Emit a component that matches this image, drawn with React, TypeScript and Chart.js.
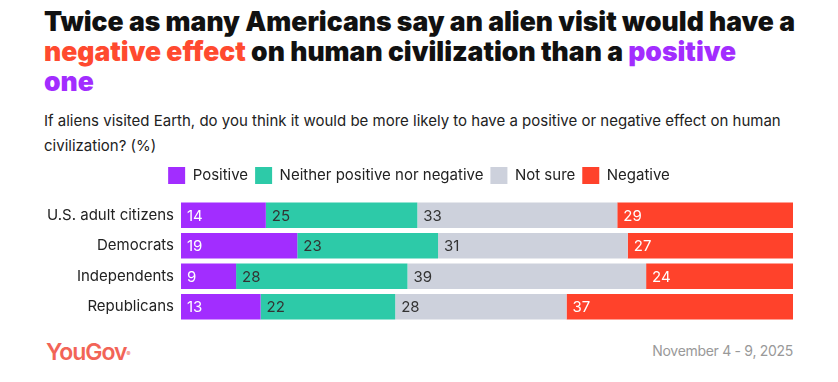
import React, { useEffect, useRef } from "react";
import { Chart, registerables } from "chart.js";

Chart.register(...registerables);

const categories = ["U.S. adult citizens", "Democrats", "Independents", "Republicans"];
const seriesNames = ["Positive", "Neither positive nor negative", "Not sure", "Negative"];
const positive = [14, 19, 9, 13];
const neither = [25, 23, 28, 22];
const notSure = [33, 31, 39, 28];
const negative = [29, 27, 24, 37];
const seriesColors = ["#a22dff", "#2dcaa8", "#cdd1dc", "#ff422b"];
const labelColors = ["#ffffff", "#333333", "#333333", "#ffffff"];

const FONT = "Inter, 'Noto Sans', sans-serif";

export default function App() {
  const ref = useRef<HTMLCanvasElement | null>(null);

  useEffect(() => {
    if (!ref.current) return;
    const raw = [positive, neither, notSure, negative];
    const totals = categories.map((_, i) => raw.reduce((s, arr) => s + arr[i], 0));

    const labelPlugin = {
      id: "barLabels",
      afterDatasetsDraw(chart: any) {
        const ctx = chart.ctx;
        ctx.save();
        ctx.font = `400 15px ${FONT}`;
        ctx.textAlign = "left";
        ctx.textBaseline = "middle";
        chart.data.datasets.forEach((ds: any, di: number) => {
          const meta = chart.getDatasetMeta(di);
          meta.data.forEach((el: any, i: number) => {
            const left = Math.min(el.x, el.base);
            ctx.fillStyle = labelColors[di];
            ctx.fillText(String(ds.rawValues[i]), left + 6, el.y + 1);
          });
        });
        ctx.restore();
      },
    };

    const legendSpacer = {
      id: "legendSpacer",
      beforeInit(chart: any) {
        const legend = chart.legend;
        if (!legend) return;
        const origFit = legend.fit;
        legend.fit = function () {
          origFit.call(this);
          this.height += 6;
        };
      },
    };

    const chart = new Chart(ref.current, {
      type: "bar",
      data: {
        labels: categories,
        datasets: raw.map((arr, di) => ({
          label: seriesNames[di],
          data: arr.map((v, i) => (v / totals[i]) * 100),
          rawValues: arr,
          backgroundColor: seriesColors[di],
          borderWidth: 0,
          barPercentage: 25 / 30,
          categoryPercentage: 1,
        })) as any,
      },
      options: {
        indexAxis: "y",
        animation: false,
        responsive: false,
        maintainAspectRatio: false,
        layout: { padding: { left: 45, right: 45, top: 0, bottom: 0 } },
        plugins: {
          legend: {
            display: true,
            position: "top",
            labels: {
              boxWidth: 17,
              boxHeight: 17,
              padding: 7,
              color: "#222222",
              font: { family: FONT, size: 15 },
            },
          },
          tooltip: { enabled: false },
          title: { display: false },
        },
        scales: {
          x: {
            stacked: true,
            display: false,
            min: 0,
            max: 100,
          },
          y: {
            stacked: true,
            grid: { display: false, drawTicks: false },
            border: { display: false },
            ticks: {
              color: "#222222",
              padding: 7,
              font: { family: FONT, size: 15 },
            },
            afterFit: (scale: any) => {
              scale.width = 136;
            },
          },
        },
      },
      plugins: [legendSpacer, labelPlugin],
    });
    return () => chart.destroy();
  }, []);

  return (
    <div
      style={{
        position: "fixed",
        left: 0,
        top: 0,
        width: 838,
        height: 382,
        background: "#ffffff",
        fontFamily: FONT,
        overflow: "hidden",
      }}
    >
      <div
        style={{
          position: "absolute",
          left: 44,
          top: 6,
          fontSize: 26.5,
          fontWeight: 900,
          lineHeight: "30px",
          color: "#111111",
          whiteSpace: "nowrap",
        }}
      >
        Twice as many Americans say an alien visit would have a<br />
        <span style={{ color: "#ff4a2f" }}>negative effect</span> on human civilization than a{" "}
        <span style={{ color: "#a22dff" }}>positive</span>
        <br />
        <span style={{ color: "#a22dff" }}>one</span>
      </div>
      <div
        style={{
          position: "absolute",
          left: 44,
          top: 108,
          fontSize: 15,
          lineHeight: "25px",
          color: "#222222",
          whiteSpace: "nowrap",
        }}
      >
        If aliens visited Earth, do you think it would be more likely to have a positive or negative effect on human
        <br />
        civilization? (%)
      </div>
      <canvas
        ref={ref}
        width={838}
        height={178}
        style={{ position: "absolute", left: 0, top: 160, width: 838, height: 178 }}
      />
      <div
        style={{
          position: "absolute",
          left: 46,
          top: 338,
          fontSize: 23,
          fontWeight: 600,
          color: "#f26457",
          letterSpacing: -1,
          lineHeight: "28px",
        }}
      >
        YouGov<sup style={{ fontSize: 6, verticalAlign: "top", position: "relative", top: 2 }}>®</sup>
      </div>
      <div
        style={{
          position: "absolute",
          right: 45,
          top: 341,
          fontSize: 14,
          color: "#999999",
          lineHeight: "20px",
          letterSpacing: -0.3,
        }}
      >
        November 4 - 9, 2025
      </div>
    </div>
  );
}
